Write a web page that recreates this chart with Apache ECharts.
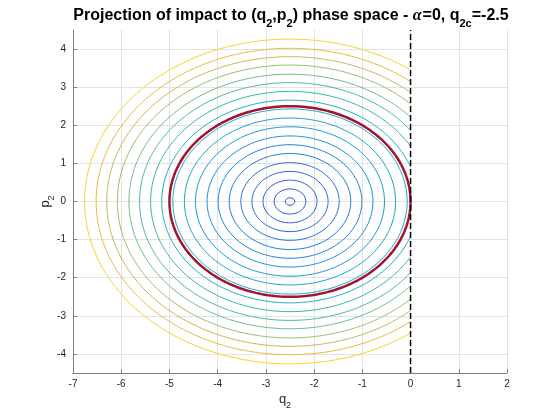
<!DOCTYPE html>
<html>
<head>
<meta charset="utf-8">
<script src="https://cdn.jsdelivr.net/npm/echarts@6/dist/echarts.min.js"></script>
<style>html,body{margin:0;padding:0;background:#fff}#c{width:560px;height:420px}</style>
</head>
<body>
<div id="c"></div>
<script>
// ---- data ----
var q2c = -2.5;                 // centre of the orbits on q2
var wallQ = 0;                  // impact wall position (dashed line)
var radii = [0.10, 0.33, 0.56, 0.79, 1.02, 1.26, 1.49, 1.72, 1.96, 2.19, 2.43, 2.66, 2.89, 3.12, 3.34, 3.58, 3.80, 4.02, 4.26];
var impactRadius = 2.5;         // orbit that just touches the wall (red)
var xTicks = [-7, -6, -5, -4, -3, -2, -1, 0, 1, 2];
var yTicks = [-4, -3, -2, -1, 0, 1, 2, 3, 4];
var xRange = [-7, 2];
var yRange = [-4.5, 4.5];

// ---- styles ----
var paletteStops = [
  [0.00, [48, 82, 214]],
  [0.25, [30, 118, 228]],
  [0.50, [22, 164, 214]],
  [0.62, [30, 178, 184]],
  [0.74, [80, 190, 150]],
  [0.84, [160, 190, 104]],
  [0.93, [236, 178, 66]],
  [1.00, [246, 214, 36]]
];
function pal(t) {
  for (var i = 1; i < paletteStops.length; i++) {
    if (t <= paletteStops[i][0]) {
      var a = paletteStops[i - 1], b = paletteStops[i];
      var f = (t - a[0]) / (b[0] - a[0]);
      var c = a[1].map(function (v, k) { return Math.round(v + (b[1][k] - v) * f); });
      return 'rgb(' + c.join(',') + ')';
    }
  }
  return 'rgb(' + paletteStops[paletteStops.length - 1][1].join(',') + ')';
}

function orbit(r) {
  var pts = [];
  var t0 = 0, t1 = 2 * Math.PI;
  if (q2c + r > wallQ) {
    t0 = Math.acos((wallQ - q2c) / r);
    t1 = 2 * Math.PI - t0;
  }
  var n = 240;
  for (var i = 0; i <= n; i++) {
    var t = t0 + (t1 - t0) * i / n;
    pts.push([q2c + r * Math.cos(t), r * Math.sin(t)]);
  }
  return pts;
}

var series = radii.map(function (r, i) {
  return {
    type: 'line', data: orbit(r), showSymbol: false, silent: true,
    lineStyle: { color: pal(i / (radii.length - 1)), width: 1 },
    z: 2
  };
});
series.push({
  type: 'line', data: orbit(impactRadius), showSymbol: false, silent: true,
  lineStyle: { color: '#a2142f', width: 2.5 }, z: 3
});
series.push({
  type: 'line', data: [[wallQ, yRange[0]], [wallQ, yRange[1]]], showSymbol: false, silent: true,
  lineStyle: { color: '#000', width: 1.5, type: [6, 3] }, z: 4
});

var font = 'Liberation Sans, Arial, Helvetica, sans-serif';
var chart = echarts.init(document.getElementById('c'), null, { renderer: 'canvas' });
chart.setOption({
  animation: false,
  backgroundColor: '#fff',
  title: {
    left: 286, top: 1, textAlign: 'center',
    text: '{m|Projection of impact to (q}{s|2}{m|,p}{s|2}{m|) phase space - }{g|α}{m|=0, q}{s|2c}{m|=-2.5}',
    textStyle: {
      rich: {
        m: { fontFamily: font, fontWeight: 'bold', fontSize: 16, color: '#000', verticalAlign: 'bottom', padding: [0, 0, 5, 0] },
        g: { fontFamily: 'Liberation Serif, serif', fontStyle: 'italic', fontSize: 16, color: '#000', verticalAlign: 'bottom', padding: [0, 1, 5, 0] },
        s: { fontFamily: font, fontWeight: 'bold', fontSize: 11, color: '#000', verticalAlign: 'bottom', padding: [12, 0, 0, 0] }
      }
    }
  },
  grid: { left: 73, right: 53, top: 30, bottom: 47 },
  xAxis: {
    type: 'value', min: xRange[0], max: xRange[1], interval: 1,
    name: '{m|q}{s|2}', nameLocation: 'middle', nameGap: 18, nameMoveOverlap: false,
    nameTextStyle: { padding: [0, 10, 0, 0], rich: {
      m: { fontFamily: font, fontSize: 13, color: '#262626', verticalAlign: 'bottom', padding: [0, 0, 4, 0] },
      s: { fontFamily: font, fontSize: 9, color: '#262626', verticalAlign: 'bottom', padding: [10, 0, 0, 0] }
    } },
    axisLine: { onZero: false, lineStyle: { color: '#808080', width: 1 } },
    axisTick: { inside: true, length: 4, lineStyle: { color: '#808080' } },
    axisLabel: { fontFamily: font, fontSize: 10, color: '#262626', margin: 6, formatter: function (v) { return String(v); } },
    splitLine: { show: true, lineStyle: { color: '#e3e3e3', width: 1 } }
  },
  yAxis: {
    type: 'value', min: yRange[0], max: yRange[1],
    name: '{m|p}{s|2}', nameLocation: 'middle', nameGap: 17, nameRotate: 90, nameMoveOverlap: false,
    nameTextStyle: { rich: {
      m: { fontFamily: font, fontSize: 13, color: '#262626', verticalAlign: 'bottom', padding: [0, 0, 4, 0] },
      s: { fontFamily: font, fontSize: 9, color: '#262626', verticalAlign: 'bottom', padding: [10, 0, 0, 0] }
    } },
    axisLine: { onZero: false, lineStyle: { color: '#808080', width: 1 } },
    axisTick: { inside: true, length: 4, customValues: yTicks, lineStyle: { color: '#808080' } },
    axisLabel: { fontFamily: font, fontSize: 10, color: '#262626', margin: 7, customValues: yTicks },
    splitLine: { show: true, lineStyle: { color: '#e3e3e3', width: 1 } }
  },
  series: series
});
</script>
</body>
</html>
